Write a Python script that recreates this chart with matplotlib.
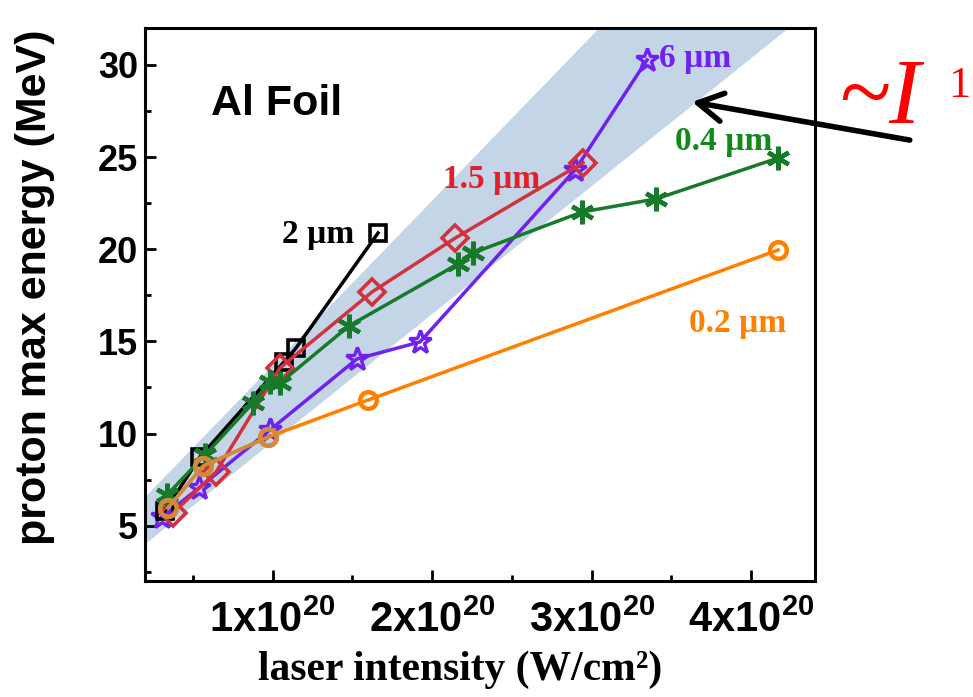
import numpy as np
import matplotlib
matplotlib.use("Agg")
import matplotlib.pyplot as plt
from matplotlib.ticker import FixedLocator, MultipleLocator, FuncFormatter

# proton cut-off energies (MeV) vs laser intensity (10^20 W/cm^2), per foil thickness
i_6um = [0.307, 0.539, 0.984, 1.529, 1.924, 2.896, 3.347]
e_6um = [5.47, 7.05, 10.2, 14.05, 14.97, 24.3, 30.27]

i_2um = [0.325, 0.545, 1.071, 1.147, 1.661]
e_2um = [5.8, 8.73, 13.88, 14.64, 20.88]

i_15um = [0.376, 0.645, 1.046, 1.623, 2.144, 2.946]
e_15um = [5.69, 7.91, 13.56, 17.68, 20.6, 24.7]

i_04um = [0.338, 0.576, 0.877, 0.984, 1.046, 1.479, 2.162, 2.256, 2.94, 3.404, 4.169]
e_04um = [6.67, 8.84, 11.66, 12.8, 12.74, 15.84, 19.2, 19.8, 22.02, 22.73, 24.95]

i_02um = [0.344, 0.564, 0.971, 1.598, 4.169]
e_02um = [5.96, 8.24, 9.81, 11.82, 19.96]

# ~I^1 band: lower / upper edge (slope, intercept)
band_low = (6.94, 2.6)
band_high = (8.94, 4.75)

x_ticks = [1, 2, 3, 4]
y_ticks = [5, 10, 15, 20, 25, 30]

plt.rcParams["mathtext.fontset"] = "custom"
plt.rcParams["mathtext.rm"] = "Liberation Sans:bold"
plt.rcParams["mathtext.default"] = "rm"

fig = plt.figure(figsize=(9.73, 6.97), dpi=100)
ax = fig.add_axes([0.149, 0.1664, 0.6886, 0.7934])

xb = np.linspace(0.0, 4.6, 50)
ax.fill_between(xb, band_low[0] * xb + band_low[1], band_high[0] * xb + band_high[1],
                color="#c4d5e8", lw=0, zorder=0)

lw = 2.5
ax.plot(i_6um, e_6um, color="#7020f0", lw=lw, marker="*", ms=17, mfc="none", mew=2.4, zorder=2)
ax.plot(i_2um, e_2um, color="black", lw=lw, marker="s", ms=11, mfc="none", mew=2.6, zorder=3)
ax.plot(i_15um, e_15um, color="#d0323e", lw=lw, marker="D", ms=13, mfc="none", mew=2.6, zorder=4)
ax.plot(i_04um, e_04um, color="#167a2a", lw=lw, marker=(6, 2, 0), ms=17, mew=3.2, zorder=5)
ax.plot(i_02um, e_02um, color="#ff8000", lw=lw, marker="o", ms=12, mfc="none", mew=3.2, zorder=6)
ax.plot(i_02um[:3], e_02um[:3], color="#d08a40", lw=lw, marker="o", ms=12, mfc="none", mew=3.2, zorder=7)

lab = dict(family="Liberation Serif", weight="bold", fontsize=24, va="baseline", ha="left")
ax.text(3.42, 29.89, "6 \u00b5m", color="#7020f0", **lab)
ax.text(3.52, 25.38, "0.4 \u00b5m", color="#128a1a", **lab)
ax.text(2.07, 23.32, "1.5 \u00b5m", color="#e0202c", **lab)
ax.text(1.06, 20.33, "2 \u00b5m", color="black", **lab)
ax.text(3.61, 15.49, "0.2 \u00b5m", color="#ff8000", **lab)

ax.text(0.615, 27.28, "Al Foil", family="Liberation Sans", weight="bold", fontsize=31,
        va="baseline", ha="left")

ax.set_xlim(0.2, 4.4)
ax.set_ylim(2, 32)
ax.xaxis.set_major_locator(FixedLocator(x_ticks))
ax.xaxis.set_minor_locator(MultipleLocator(0.5))
ax.yaxis.set_major_locator(FixedLocator(y_ticks))
ax.yaxis.set_minor_locator(MultipleLocator(2.5))
ax.xaxis.set_major_formatter(FuncFormatter(lambda v, p: f"{int(v)}x10$^{{20}}$"))
ax.tick_params(which="both", direction="in", width=2, top=False, right=False)
ax.tick_params(which="major", length=8)
ax.tick_params(which="minor", length=4)
ax.tick_params(axis="x", pad=14)
ax.tick_params(axis="y", pad=5)
for t in ax.get_xticklabels():
    t.set_fontfamily("Liberation Sans")
    t.set_fontweight("bold")
    t.set_fontsize(30)
for t in ax.get_yticklabels():
    t.set_fontfamily("Liberation Sans")
    t.set_fontweight("bold")
    t.set_fontsize(26)
for s in ax.spines.values():
    s.set_linewidth(2.2)

ax.set_xlabel("laser intensity (W/cm\u00b2)", family="Liberation Serif", weight="bold", fontsize=30)
ax.xaxis.set_label_coords(0.47, -0.125)
ax.set_ylabel("proton max energy (MeV)", family="Liberation Sans", weight="bold", fontsize=31)
ax.yaxis.set_label_coords(-0.135, 0.532)

ax.annotate("", xy=(3.63, 27.99), xycoords="data", xytext=(0.935, 0.799),
            textcoords="figure fraction", annotation_clip=False,
            arrowprops=dict(arrowstyle="->,head_length=1.5,head_width=0.85", lw=4,
                            color="black", shrinkA=0, shrinkB=0, mutation_scale=12,
                            clip_on=False))
fig.text(0.861, 0.8235, "~I", family="Liberation Serif", style="italic", fontsize=68,
         color="red", va="baseline", ha="left")
fig.text(0.974, 0.861, "1", family="Liberation Serif", fontsize=32, color="red",
         va="baseline", ha="left")

fig.savefig("out.png", dpi=100)
